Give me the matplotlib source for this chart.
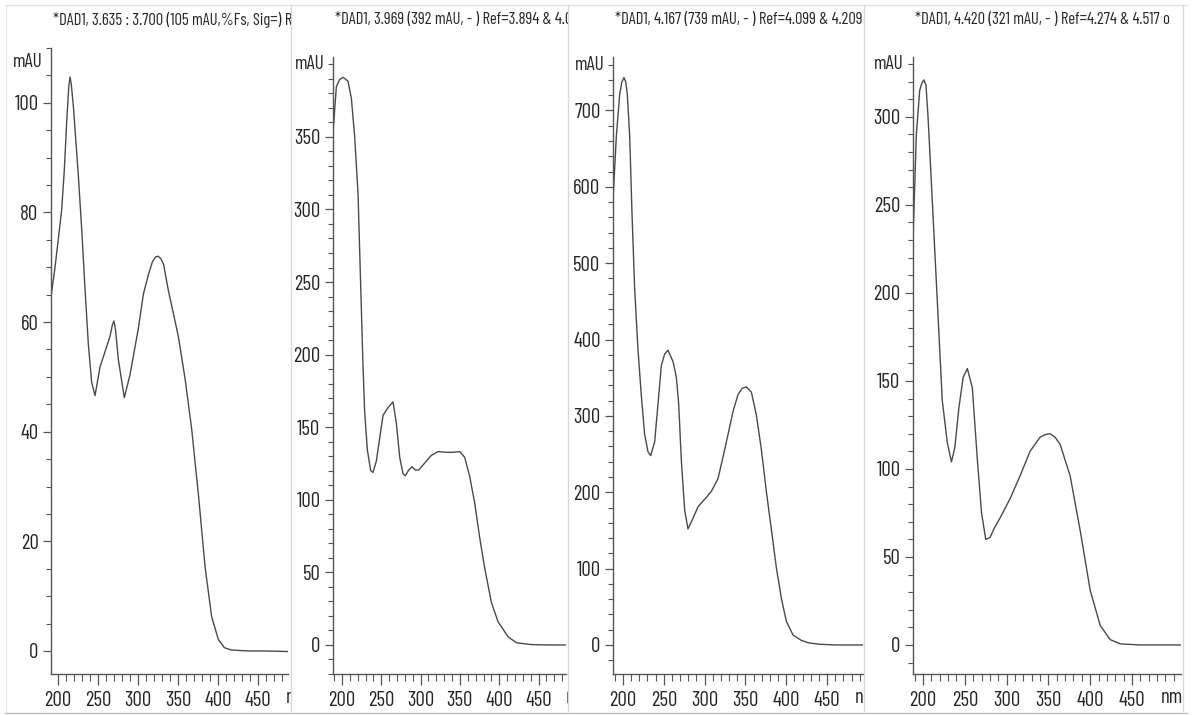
import numpy as np
import matplotlib
matplotlib.use("Agg")
import matplotlib.pyplot as plt
from matplotlib.ticker import MultipleLocator, FixedLocator
from matplotlib.transforms import Bbox, TransformedBbox
from matplotlib.lines import Line2D

W, H = 1192, 715

plt.rcParams["font.family"] = ["Barlow Condensed", "Roboto Condensed", "DejaVu Sans"]

titles = [
    "*DAD1, 3.635 : 3.700 (105 mAU,%Fs, Sig=) Re",
    "*DAD1, 3.969 (392 mAU, - ) Ref=3.894 & 4.02",
    "*DAD1, 4.167 (739 mAU, - ) Ref=4.099 & 4.209",
    "*DAD1, 4.420 (321 mAU, - ) Ref=4.274 & 4.517 o",
]

# spectra: wavelength (nm) / absorbance (mAU)
wl_1 = [191.3, 196.3, 204.6, 208, 211, 213.5, 215, 216.5, 219.2, 225.4, 229.6,
        233.8, 237.9, 242.1, 246.3, 252.5, 258.8, 265, 268, 270, 272, 275.4,
        282.9, 290, 300.4, 306.7, 312.9, 318, 322, 325.4, 329, 332, 337.9,
        350.4, 358.8, 367, 375.4, 383.8, 392, 400.4, 408, 416, 425, 440, 460,
        487.5]
au_1 = [64.7, 70, 80.5, 88, 97, 103, 104.7, 103.5, 99.4, 86.8, 77,
        66, 56, 49, 46.6, 51.8, 54.6, 57.4, 59.5, 60.2, 58.5, 53.2,
        46.2, 50.4, 58.8, 65.1, 68.6, 71, 71.9, 72, 71.5, 70.5, 65.8,
        57.4, 49.7, 40.6, 28.7, 15.4, 6.3, 2.1, 0.6, 0.2, 0.1, 0, 0,
        -0.1]

wl_2 = [188.6, 192.8, 197, 201.3, 205, 207.6, 211.9, 216.1, 220.4, 222.5, 224.6,
        226.7, 228.8, 232.2, 236.5, 239.4, 243.7, 247.9, 252.2, 258.5, 264.9,
        269.1, 273.4, 277.6, 280.6, 284.8, 289, 293.3, 297.5, 305.2, 313.6,
        322.1, 332.7, 341.2, 349.7, 356, 362.4, 368.8, 375.1, 381.5, 390,
        398.4, 411.2, 422, 440, 460, 485]
au_2 = [352.9, 384.5, 389.5, 391, 389.5, 388.4, 376.6, 350.3, 310.8, 271.3, 231.9,
        192.4, 160.8, 134.5, 120.1, 118.8, 126.7, 142.4, 158.2, 163.5, 167.4,
        152.9, 129.3, 118, 116.6, 120.5, 122.7, 120.5, 120.5, 125.3, 130.6,
        133.2, 132.7, 132.7, 133.2, 129.3, 116.1, 97.7, 74, 53, 29.3,
        16.1, 5.6, 1.5, 0.3, 0, 0]

wl_3 = [187.7, 191.8, 195.9, 198.5, 201.2, 203.5, 205.3, 208.2, 211, 214.3, 218.4,
        222.5, 226.5, 230.6, 233.9, 238.8, 242.9, 247, 251, 255.1, 261.3,
        265.3, 268.2, 271.5, 275.6, 279.6, 285.8, 291.9, 300.1, 308.2, 316.4,
        322.5, 328.7, 334.8, 340.9, 346, 351.1, 357.3, 363.4, 369.5, 375.6,
        381.8, 387.9, 394, 400.1, 408.3, 418.5, 426.7, 440, 460, 494]
au_3 = [580.7, 665.7, 720.7, 737, 743, 737, 721, 666, 566, 466, 386,
        326, 276, 253, 248, 266, 316, 366, 381, 386, 371,
        351, 316, 241, 176, 152, 166, 181, 191, 201, 218,
        246, 276, 306, 328, 336, 338, 331, 301, 256, 201,
        151, 101, 61, 31, 13, 6, 3, 1, 0, 0]

wl_4 = [188, 192, 196, 198.5, 201, 203.5, 206, 211, 217, 223, 229, 234, 238,
        243, 248, 253, 259, 265, 270, 275, 280, 286, 292, 304, 316, 328, 340,
        346, 352, 358, 364, 376, 388, 400, 412, 424, 436, 460, 508]
au_4 = [230, 290, 315, 319, 321, 318, 300, 253, 196, 139, 115, 104, 112,
        135, 152, 157, 146, 105, 75, 60, 61, 67, 72, 83, 96, 110, 118,
        119.5, 120, 118, 114, 96, 65, 31, 11, 3, 0.6, 0, 0]

spectra = [(wl_1, au_1), (wl_2, au_2), (wl_3, au_3), (wl_4, au_4)]

# layout in pixels: left, right, top, bottom of each plot, right edge of its strip
boxes = [(51, 288, 48, 674, 291), (333, 566, 57, 674, 568),
         (613, 863, 57, 674, 864), (913, 1181, 57, 674, 1183)]
xlims = [(191.25, 487.5), (188.55, 484.9), (187.75, 494.0), (188.0, 508.6)]
ylims = [(-4.2, 110), (-20, 405), (-38, 770), (-16.5, 334)]
ymajor = [np.arange(0, 101, 20), np.arange(0, 351, 50),
          np.arange(0, 701, 100), np.arange(0, 301, 50)]
yminor = [5, 10, 20, 10]
mau_pos = [107.5, 400, 760, 330]

ink = "#262626"
axis_col = "#555555"
fig = plt.figure(figsize=(W / 100, H / 100), dpi=100)

for i, (wl, au) in enumerate(spectra):
    l, r, t, b, strip = boxes[i]
    ax = fig.add_axes([l / W, 1 - b / H, (r - l) / W, (b - t) / H])
    ax.plot(wl, au, color="#4a4a4a", lw=1.0)
    ax.set_xlim(*xlims[i])
    ax.set_ylim(*ylims[i])

    for side in ("top", "right"):
        ax.spines[side].set_visible(False)
    for side in ("left", "bottom"):
        ax.spines[side].set_color(axis_col)
        ax.spines[side].set_linewidth(1.0)

    ax.xaxis.set_major_locator(FixedLocator([200, 250, 300, 350, 400, 450]))
    ax.xaxis.set_minor_locator(MultipleLocator(10))
    ax.yaxis.set_major_locator(FixedLocator(ymajor[i]))
    ax.yaxis.set_minor_locator(MultipleLocator(yminor[i]))

    ax.tick_params(axis="x", which="major", length=8, width=0.9, pad=4,
                   color=axis_col, labelsize=15, labelcolor=ink)
    ax.tick_params(axis="x", which="minor", length=5, width=0.8, color=axis_col)
    ax.tick_params(axis="y", which="major", length=6, width=0.9, pad=3,
                   color=axis_col, labelsize=15, labelcolor=ink)
    ax.tick_params(axis="y", which="minor", length=3.5, width=0.8, color=axis_col)

    clip = TransformedBbox(Bbox([[0, 0], [strip / W, 1]]), fig.transFigure)

    ax.text(-0.035, mau_pos[i], "mAU", transform=ax.get_yaxis_transform(),
            ha="right", va="center", fontsize=14, color=ink)

    nm = ax.text(484.5, -0.022, "nm", transform=ax.get_xaxis_transform(),
                 ha="left", va="top", fontsize=15, color=ink, clip_on=True)
    nm.set_clip_box(clip)

    ttl = fig.text(l / W + 0.002, 1 - 20 / H, titles[i], ha="left", va="center",
                   fontsize=12, color=ink, clip_on=True)
    ttl.set_clip_box(clip)

    # faint strip border of the scanned sheet
    fig.add_artist(Line2D([strip / W, strip / W], [0.005, 0.993],
                          color="#d8d8d8", lw=1.0))

fig.add_artist(Line2D([0.004, 0.996], [1 - 5 / H, 1 - 5 / H], color="#e2e2e2", lw=1.0))
fig.add_artist(Line2D([0.004, 0.996], [1 - 713 / H, 1 - 713 / H], color="#bdbdbd", lw=1.0))
fig.add_artist(Line2D([6 / W, 6 / W], [0.005, 0.993], color="#e6e6e6", lw=1.0))

fig.savefig("out.png", dpi=100)
